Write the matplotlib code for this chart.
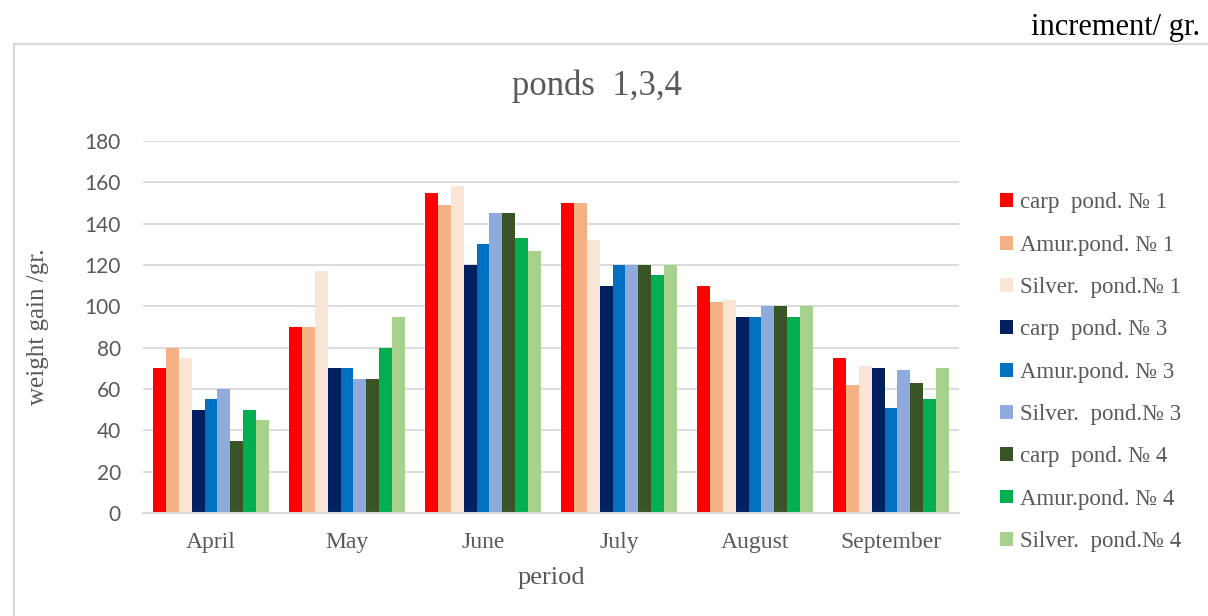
import matplotlib.pyplot as plt
import numpy as np
from matplotlib.patches import Rectangle

months = ['April', 'May', 'June', 'July', 'August', 'September']
series_names = ['carp  pond. № 1', 'Amur.pond. № 1', 'Silver.  pond.№ 1',
                'carp  pond. № 3', 'Amur.pond. № 3', 'Silver.  pond.№ 3',
                'carp  pond. № 4', 'Amur.pond. № 4', 'Silver.  pond.№ 4']
carp_1 = [70, 90, 155, 150, 110, 75]
amur_1 = [80, 90, 149, 150, 102, 62]
silver_1 = [75, 117, 158, 132, 103, 71]
carp_3 = [50, 70, 120, 110, 95, 70]
amur_3 = [55, 70, 130, 120, 95, 51]
silver_3 = [60, 65, 145, 120, 100, 69]
carp_4 = [35, 65, 145, 120, 100, 63]
amur_4 = [50, 80, 133, 115, 95, 55]
silver_4 = [45, 95, 127, 120, 100, 70]
series = [carp_1, amur_1, silver_1, carp_3, amur_3, silver_3, carp_4, amur_4, silver_4]
colors = ['#FF0000', '#F4B183', '#FBE5D6', '#002060', '#0070C0', '#8FAADC',
          '#3A5525', '#00B050', '#A9D18E']

SERIF = 'Liberation Serif'
GREY = '#595959'

W, H = 1208, 616
fig = plt.figure(figsize=(W / 100, H / 100), dpi=100)

# chart frame
fig.patches.append(Rectangle((14 / W, -0.05), 1.1, (H - 44) / H + 0.05,
                             transform=fig.transFigure, fill=False,
                             edgecolor='#D9D9D9', linewidth=1.5))

ax = fig.add_axes([143 / W, (H - 513) / H, (959 - 143) / W, (513 - 141) / H])

n = len(series)
group = 0.86
bw = group / n
x = np.arange(len(months))
for i, (vals, c, name) in enumerate(zip(series, colors, series_names)):
    ax.bar(x - group / 2 + bw * (i + 0.5), vals, width=bw, color=c, label=name)

ax.set_xlim(-0.5, len(months) - 0.5)
ax.set_ylim(0, 180)
ax.set_yticks(range(0, 181, 20))
ax.set_xticks(x)
ax.set_xticklabels(months, fontfamily=SERIF, fontsize=17, color=GREY)
for lab in ax.get_yticklabels():
    lab.set_fontfamily('Lato')
    lab.set_fontsize(15)
    lab.set_color(GREY)
ax.tick_params(axis='both', length=0)
ax.tick_params(axis='y', pad=16)
ax.tick_params(axis='x', pad=14)
ax.grid(axis='y', color='#D9D9D9', linewidth=1.3)
ax.set_axisbelow(True)
for s in ['top', 'right', 'left']:
    ax.spines[s].set_visible(False)
ax.spines['bottom'].set_color('#D9D9D9')
ax.spines['bottom'].set_linewidth(1.5)

ax.set_xlabel('period', fontfamily=SERIF, fontsize=19, color=GREY)
ax.xaxis.set_label_coords(0.5, -(578 - 513) / 372, transform=ax.transAxes)
ax.xaxis.label.set_va('center')
ax.set_ylabel('weight gain /gr.', fontfamily=SERIF, fontsize=18, color=GREY)
ax.yaxis.set_label_coords(-(143 - 38) / 816, 0.5, transform=ax.transAxes)
ax.yaxis.label.set_va('center')

fig.text(597 / W, 1 - 86 / H, 'ponds  1,3,4', fontfamily=SERIF, fontsize=25,
         color=GREY, ha='center', va='center')
fig.text(1200 / W, 1 - 28 / H, 'increment/ gr.', fontfamily=SERIF, fontsize=22,
         color='black', ha='right', va='center')

fig.legend(loc='upper left', bbox_to_anchor=(989 / W, 1 - 181 / H), frameon=False,
           prop={'family': SERIF, 'size': 16.5}, handlelength=0.55, handleheight=0.55,
           handletextpad=0.3, labelspacing=0.93, borderpad=0, labelcolor=GREY)

fig.savefig('out.png', dpi=100)
